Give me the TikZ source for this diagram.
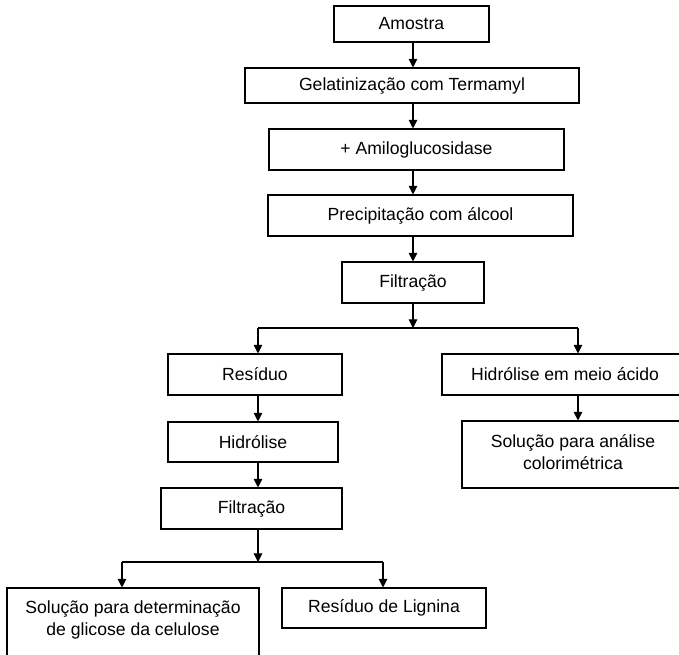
\documentclass[tikz,border=0pt]{standalone}
\usepackage{fontspec}
\setmainfont{Liberation Sans}
\usetikzlibrary{arrows.meta,positioning,calc}
\tikzset{box/.style={draw,line width=.8pt,inner sep=2pt,align=center,font=\fontsize{13.2}{16.5}\selectfont},
  sz/.style 2 args={minimum width=#1*.75pt,minimum height=#2*.75pt},
  flow/.style={-{Triangle[length=6.5pt,width=6.5pt]},line width=.8pt},
  link/.style={line width=.8pt}}

\begin{document}
\begin{tikzpicture}[x=.75pt,y=-.75pt]
\clip (0,0) rectangle (679,654);
\fill[white] (0,0) rectangle (679,654);
% main column
\node[box,sz={155}{36}] (amostra) at (411.5,24) {Amostra};
\node[box,sz={334}{35}] (gelat) at (412,85.5) {Gelatinização com Termamyl};
\node[box,sz={295}{41}] (amilo) at (416.5,149.5) {+ Amiloglucosidase};
\node[box,sz={305}{41}] (precip) at (420.5,215.5) {Precipitação com álcool};
\node[box,sz={142}{41}] (filtA) at (413,282.5) {Filtração};
% right branch
\node[box,sz={246}{41}] (hidracido) at (565,374.5) {Hidrólise em meio ácido};
\node[box,sz={222}{67}] (solanalise) at (573,454.5) {Solução para análise\\colorimétrica\rule[-4pt]{0pt}{4pt}};
% left branch
\node[box,sz={174}{41}] (residuo) at (255,374.5) {Resíduo};
\node[box,sz={170}{40}] (hidrol) at (253,442) {Hidrólise};
\node[box,sz={181}{41}] (filtB) at (251.5,508.5) {Filtração};
\node[box,sz={252}{72}] (soldet) at (133,624) {Solução para determinação\\de glicose da celulose\rule[-9pt]{0pt}{9pt}};
\node[box,sz={204}{40}] (lignina) at (384,608) {Resíduo de Lignina};

\coordinate (splitA) at (413,328);
\coordinate (splitAl) at (258,328);
\coordinate (splitAr) at (578,328);
\coordinate (splitB) at (258,562);
\coordinate (splitBl) at (122,562);
\coordinate (splitBr) at (383,562);

\foreach \a/\b in {amostra/gelat,gelat/amilo,amilo/precip,precip/filtA}
  \draw[flow] (\a.south -| filtA) -- (\b.north -| filtA);
\draw[flow] (filtA) -- (splitA);
\draw[link] (splitAl) -- (splitAr);
\draw[flow] (splitAl) -- (splitAl |- residuo.north);
\draw[flow] (splitAr) -- (splitAr |- hidracido.north);
\draw[flow] (hidracido.south -| splitAr) -- (splitAr |- solanalise.north);
\foreach \a/\b in {residuo/hidrol,hidrol/filtB}
  \draw[flow] (\a.south -| splitAl) -- (\b.north -| splitAl);
\draw[flow] (filtB.south -| splitB) -- (splitB);
\draw[link] (splitBl) -- (splitBr);
\draw[flow] (splitBl) -- (splitBl |- soldet.north);
\draw[flow] (splitBr) -- (splitBr |- lignina.north);
\end{tikzpicture}
\end{document}
